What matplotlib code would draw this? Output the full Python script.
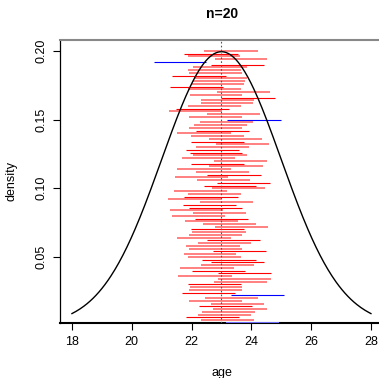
import numpy as np
import matplotlib
matplotlib.use("Agg")
from matplotlib import pyplot as plt

# population the samples come from
mu = 23
sigma = 2

# confidence intervals, listed from the top row down
lower = [22.42, 21.75, 21.87, 22.78, 20.74, 22.65, 22.05, 21.89, 21.92, 21.35,
         22.09, 22.05, 22.00, 21.27, 21.89, 22.84, 21.94, 23.00, 22.33, 22.31,
         21.89, 21.47, 21.25, 22.50, 21.92, 23.20, 22.28, 22.09, 21.92, 22.14,
         21.53, 21.97, 22.58, 21.98, 22.81, 22.14, 21.80, 21.94, 22.05, 21.69,
         22.75, 21.98, 22.59, 21.53, 22.14, 22.53, 21.44, 22.17, 22.84, 22.41,
         22.67, 21.41, 21.87, 21.75, 21.22, 22.28, 21.70, 21.92, 21.27, 22.05,
         21.33, 22.11, 21.78, 22.37, 22.78, 21.98, 22.03, 21.92, 21.53, 22.50,
         22.20, 21.83, 21.92, 22.72, 21.74, 21.89, 22.36, 22.65, 22.31, 21.63,
         22.03, 22.89, 21.55, 22.89, 22.75, 21.89, 21.94, 21.92, 21.69, 23.31,
         22.45, 21.92, 22.65, 22.24, 22.72, 22.36, 22.22, 21.81, 22.31, 23.15]
upper = [24.21, 23.54, 23.62, 24.54, 22.48, 24.41, 23.87, 23.67, 23.69, 23.14,
         23.84, 23.80, 23.75, 23.06, 23.64, 24.62, 23.70, 24.79, 24.09, 24.06,
         23.65, 23.25, 23.02, 24.28, 23.70, 24.99, 24.04, 23.87, 23.69, 23.93,
         23.31, 23.74, 24.36, 23.76, 24.60, 23.92, 23.58, 23.70, 23.84, 23.45,
         24.53, 23.76, 24.38, 23.31, 23.93, 24.32, 23.23, 23.95, 24.62, 24.17,
         24.45, 23.17, 23.65, 23.54, 23.01, 24.06, 23.48, 23.70, 23.06, 23.82,
         23.11, 23.89, 23.54, 24.15, 24.56, 23.76, 23.82, 23.70, 23.31, 24.28,
         23.98, 23.62, 23.69, 24.48, 23.50, 23.67, 24.14, 24.43, 24.09, 23.41,
         23.80, 24.65, 23.34, 24.67, 24.52, 23.67, 23.70, 23.70, 23.45, 25.10,
         24.21, 23.70, 24.42, 24.01, 24.51, 24.12, 23.98, 23.58, 24.09, 24.93]
# 1 = drawn wide and pale, 0 = thin
wide = [1, 0, 1, 1, 0, 0, 1, 1, 1, 0,
        1, 1, 1, 0, 1, 1, 1, 0, 1, 1,
        1, 0, 1, 1, 1, 0, 1, 1, 1, 0,
        1, 1, 1, 0, 1, 1, 0, 0, 1, 1,
        1, 0, 1, 1, 1, 0, 1, 1, 0, 0,
        1, 1, 1, 0, 1, 1, 0, 0, 1, 1,
        1, 0, 1, 1, 1, 0, 1, 1, 1, 0,
        1, 1, 1, 0, 1, 1, 0, 0, 1, 1,
        0, 0, 1, 1, 1, 0, 1, 1, 0, 0,
        1, 1, 1, 0, 1, 1, 1, 0, 1, 1]

xticks = [18, 20, 22, 24, 26, 28]
yticks = [0.05, 0.10, 0.15, 0.20]

plt.rcParams['font.family'] = ['Liberation Sans', 'DejaVu Sans']

fig = plt.figure(figsize=(3.79, 3.78), dpi=100)
ax = fig.add_axes([0.1583, 0.1455, 0.852, 0.7487])

xs = np.linspace(18, 28, 300)
dens = np.exp(-0.5 * ((xs - mu) / sigma) ** 2) / (sigma * np.sqrt(2 * np.pi))
ax.plot(xs, dens, color='black', lw=1.0, zorder=3)

rows = np.linspace(0.2, 0.002, len(lower))
for lo, hi, w, yy in zip(lower, upper, wide, rows):
    covers = lo <= mu <= hi
    if w:
        col = '#ff8080' if covers else '#7070ff'
        ax.plot([lo, hi], [yy, yy], color=col, lw=1.4, solid_capstyle='butt', zorder=2.6)
    else:
        col = 'red' if covers else 'blue'
        ax.plot([lo, hi], [yy, yy], color=col, lw=0.8, solid_capstyle='butt', zorder=2.7)

ax.axvline(mu, color='#555555', lw=0.8, linestyle=(0, (1.5, 2)), zorder=4)

ax.set_xlim(17.6, 28.4)
ax.set_ylim(0.0019, 0.208)
ax.set_xticks(xticks)
ax.set_xticklabels([str(t) for t in xticks])
ax.set_yticks(yticks)
ax.set_yticklabels(['%.2f' % t for t in yticks], rotation=90, va='center')
ax.tick_params(direction='out', length=5, width=0.8, labelsize=9, pad=4)

ax.spines['top'].set_color('#888888')
ax.spines['top'].set_linewidth(1.5)
ax.spines['bottom'].set_linewidth(1.5)
ax.spines['left'].set_linewidth(0.9)
ax.spines['right'].set_color('#888888')

ax.set_xlabel('age', fontsize=9, labelpad=14)
ax.set_ylabel('density', fontsize=9, labelpad=13)
fig.text(0.585, 0.963, 'n=20', fontsize=10, fontweight='bold', ha='center', va='center')

fig.savefig('out.png', dpi=100)
